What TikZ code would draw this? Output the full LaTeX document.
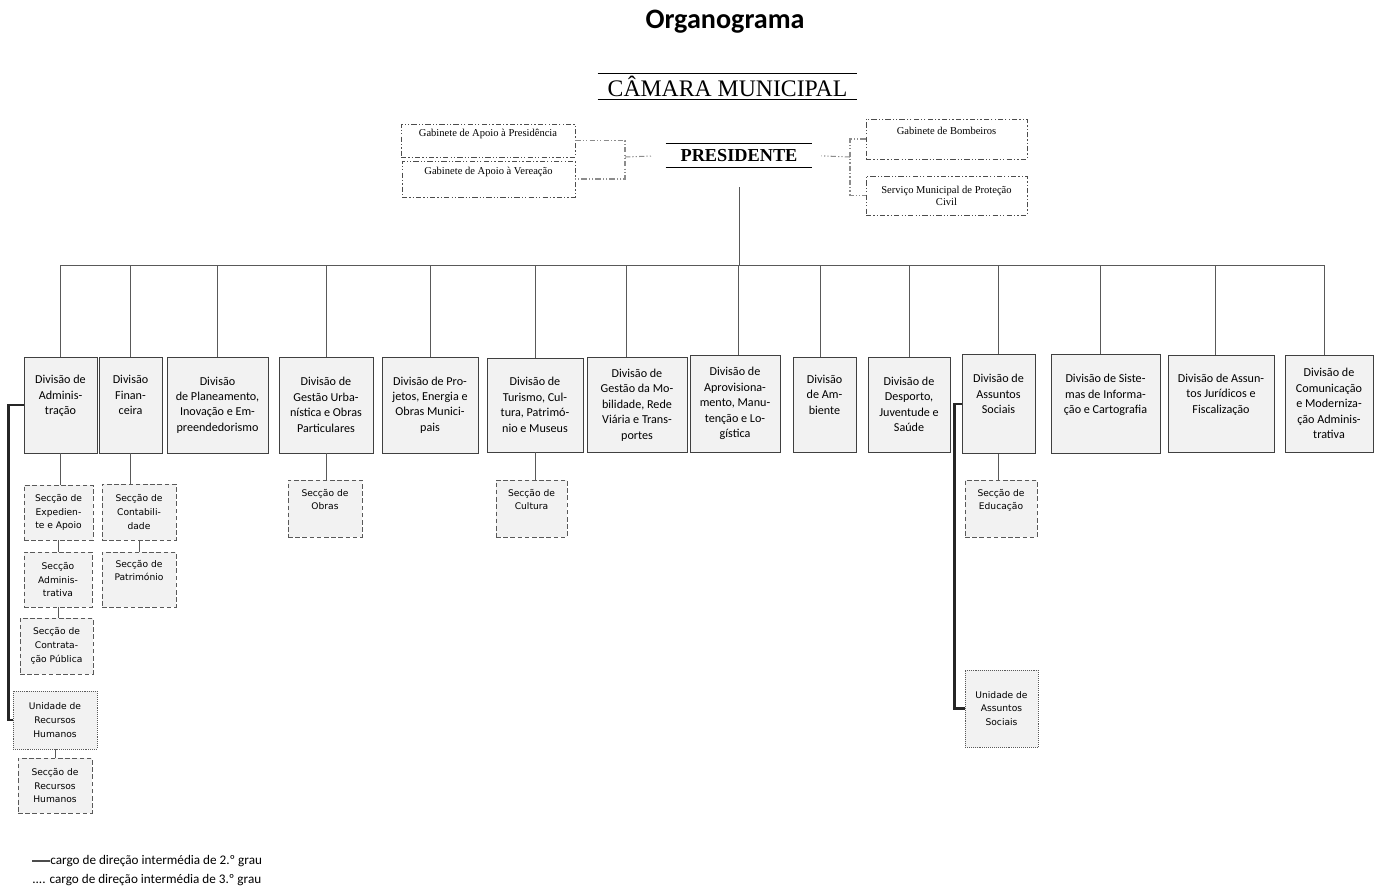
\documentclass[tikz,border=0pt]{standalone}
\usepackage{fontspec}
\setmainfont{Carlito}
\newfontfamily\timesf{Liberation Serif}
\newfontfamily\secf{DejaVu Sans}
\usepackage{tikz}
\usetikzlibrary{calc}

\begin{document}
\begin{tikzpicture}[x=0.02cm, y=-0.02cm,
	sz/.style 2 args={minimum width=#1*0.02cm, minimum height=#2*0.02cm},
	conn/.style={black!65, line width=0.55pt},
	bracket/.style={black!85, line width=1.3pt},
	gabline/.style={black!45, line width=0.6pt, dash pattern=on 3pt off 1.2pt on 0.7pt off 1.2pt on 0.7pt off 1.2pt},
	gab/.style={draw=black!70, line width=0.5pt, dash pattern=on 3pt off 1.2pt on 0.7pt off 1.2pt on 0.7pt off 1.2pt, inner sep=1pt, align=center, font=\timesf\fontsize{6}{6.8}\selectfont},
	div/.style={draw=black!75, line width=0.5pt, fill=black!5, inner sep=1pt, align=center, font=\fontsize{6.9}{8.8}\selectfont},
	sec/.style={draw=black!65, line width=0.5pt, dash pattern=on 2.6pt off 1.5pt, fill=black!5, inner sep=1pt, align=center, font=\secf\fontsize{5.2}{7.9}\selectfont},
	uni/.style={sec, dash pattern=on 0.5pt off 0.6pt},
]
	\useasboundingbox (0,0) rectangle (1381,890);

	% title
	\node[font=\bfseries\fontsize{16}{19}\selectfont] (title) at (725,22) {Organograma};

	% camara and presidente
	\node[font=\timesf\fontsize{13.5}{15}\selectfont, sz={259}{25}, inner sep=0pt] (camara) at (727.5,86.5) {CÂMARA MUNICIPAL};
	\draw[line width=0.6pt] (camara.north west) -- (camara.north east) (camara.south west) -- (camara.south east);
	\node[font=\timesf\bfseries\fontsize{10.4}{12}\selectfont, sz={146}{23}, inner sep=0pt] (pres) at (739,155.5) {PRESIDENTE};
	\draw[line width=0.6pt] (pres.north west) -- (pres.north east) (pres.south west) -- (pres.south east);

	% gabinetes
	\node[gab, sz={174}{33}] (gpres) at (488,140.5) {Gabinete de Apoio à Presidência\\\strut};
	\node[gab, sz={173}{36}] (gver) at (488.5,179) {Gabinete de Apoio à Vereação\\\strut};
	\node[gab, sz={161}{40}] (gbom) at (946.5,139) {Gabinete de Bombeiros\\\strut};
	\node[gab, sz={161}{39}] (gsmpc) at (946.5,195.5) {Serviço Municipal de Proteção\\Civil};
	\coordinate (jl) at (625,157);
	\coordinate (jr) at (850,157);
	\draw[gabline] (gpres.east) -| (jl) |- (gver.east);
	\draw[gabline, shorten >=2.8mm] (jl) -- (pres.west);
	\draw[gabline] (gbom.west) -| (jr) |- (gsmpc.west);
	\draw[gabline, shorten >=1.8mm] (jr) -- (pres.east);

	% divisoes
	\node[div, sz={73}{96}] (dadm) at (60.5,405) {Divisão de\\Adminis-\\tração\\\strut};
	\node[div, sz={63}{96}] (dfin) at (130.5,405) {Divisão\\Finan-\\ceira\\\strut};
	\node[div, sz={101}{96}] (dpla) at (217.5,405) {Divisão\\de Planeamento,\\Inovação e Em-\\preendedorismo};
	\node[div, sz={94}{96}] (durb) at (326,405) {Divisão de\\Gestão Urba-\\nística e Obras\\Particulares};
	\node[div, sz={96}{96}] (dpro) at (430,405) {Divisão de Pro-\\jetos, Energia e\\Obras Munici-\\pais};
	\node[div, sz={96}{94}] (dtur) at (535,405) {Divisão de\\Turismo, Cul-\\tura, Patrimó-\\nio e Museus};
	\node[div, sz={100}{95}] (dmob) at (637,405) {Divisão de\\Gestão da Mo-\\bilidade, Rede\\Viária e Trans-\\portes};
	\node[div, sz={90}{97}] (dapr) at (735,403.5) {Divisão de\\Aprovisiona-\\mento, Manu-\\tenção e Lo-\\gística};
	\node[div, sz={63}{95}] (damb) at (824.5,404.5) {Divisão\\de Am-\\biente\\\strut};
	\node[div, sz={82}{95}] (ddes) at (909,404.5) {Divisão de\\Desporto,\\Juventude e\\Saúde};
	\node[div, sz={73}{99}] (dsoc) at (998.5,404) {Divisão de\\Assuntos\\Sociais\\\strut};
	\node[div, sz={109}{99}] (dsig) at (1105.5,404) {Divisão de Siste-\\mas de Informa-\\ção e Cartografia\\\strut};
	\node[div, sz={106}{97}] (djur) at (1221,403.5) {Divisão de Assun-\\tos Jurídicos e\\Fiscalização\\\strut};
	\node[div, sz={88}{97}] (dcom) at (1329,403.5) {Divisão de\\Comunicação\\e Moderniza-\\ção Adminis-\\trativa};

	% presidente to divisoes
	\coordinate (bus) at (739,265.5);
	\draw[conn, shorten <=4mm] (pres.south) -- (bus);
	\draw[conn] (dadm.north) |- (bus) (dfin.north) |- (bus) (dpla.north) |- (bus)
		(durb.north) |- (bus) (dpro.north) |- (bus) (dtur.north) |- (bus)
		([xshift=-2.2mm]dmob.north) |- (bus) ([xshift=0.6mm]dapr.north) |- (bus)
		([xshift=-0.9mm]damb.north) |- (bus) (ddes.north) |- (bus) (dsoc.north) |- (bus)
		([xshift=-1mm]dsig.north) |- (bus) ([xshift=-1.1mm]djur.north) |- (bus)
		([xshift=-1mm]dcom.north) |- (bus);

	% seccoes e unidades
	\node[sec, sz={69}{55}] (sexp) at (58.5,512.5) {Secção de\\Expedien-\\te e Apoio};
	\node[sec, sz={68}{55}] (sadm) at (58,579.5) {Secção\\Adminis-\\trativa};
	\node[sec, sz={73}{56}] (scp) at (56.5,646) {Secção de\\Contrata-\\ção Pública};
	\node[uni, sz={84}{58}] (urh) at (55,720) {Unidade de\\Recursos\\Humanos};
	\node[sec, sz={74}{55}] (srh) at (55,785.5) {Secção de\\Recursos\\Humanos};
	\node[sec, sz={74}{56}] (scont) at (139,512) {Secção de\\Contabili-\\dade};
	\node[sec, sz={74}{55}] (spat) at (139,579.5) {Secção de\\Património\\\strut};
	\node[sec, sz={74}{57}] (sobr) at (325,508.5) {Secção de\\Obras\\\strut};
	\node[sec, sz={71}{57}] (scul) at (531.5,508.5) {Secção de\\Cultura\\\strut};
	\node[sec, sz={72}{57}] (sedu) at (1001,508.5) {Secção de\\Educação\\\strut};
	\node[uni, sz={73}{77}] (uas) at (1001.5,708.5) {Unidade de\\Assuntos\\Sociais};

	\draw[conn] (dadm.south) -- (dadm.south |- sexp.north);
	\draw[conn] (sexp.south) -- (sexp.south |- sadm.north);
	\draw[conn] (sadm.south) -- (sadm.south |- scp.north);
	\draw[conn] (urh.south) -- (urh.south |- srh.north);
	\draw[conn] (dfin.south) -- (dfin.south |- scont.north);
	\draw[conn] (scont.south) -- (scont.south |- spat.north);
	\draw[conn] (durb.south) -- (durb.south |- sobr.north);
	\draw[conn] (dtur.south) -- (dtur.south |- scul.north);
	\draw[conn] (dsoc.south) -- (dsoc.south |- sedu.north);
	\draw[bracket] (dadm.west) -- ++(-15,0) |- (urh.west);
	\draw[bracket] (dsoc.west) -- ++(-7,0) |- (uas.west);

	% legenda
	\coordinate (leg) at (32,861);
	\node[anchor=west, font=\fontsize{7.5}{9}\selectfont, inner sep=0pt] (g2) at (50,861) {cargo de direção intermédia de 2.º grau};
	\draw[black!70, line width=0.6pt] (leg) -- (g2.west);
	\node[anchor=west, font=\fontsize{7.5}{9}\selectfont, inner sep=0pt] (g3) at (32,880) {.... cargo de direção intermédia de 3.º grau};
\end{tikzpicture}
\end{document}
